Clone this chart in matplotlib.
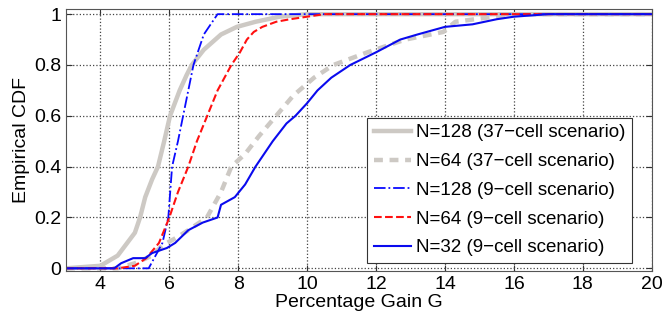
import matplotlib
matplotlib.use('Agg')
import matplotlib.pyplot as plt

plt.rcParams['font.family'] = ['Liberation Sans', 'DejaVu Sans']

# N=128 (37-cell)
g128_x = [3, 4.0, 4.5, 5.0, 5.15, 5.3, 5.5, 5.67, 5.85, 6.02, 6.3, 6.5, 6.65, 7.0, 7.5, 7.96, 8.5, 9.2, 10.0, 20]
g128_y = [0, 0.01, 0.05, 0.14, 0.2, 0.28, 0.35, 0.4, 0.5, 0.6, 0.7, 0.76, 0.8, 0.86, 0.92, 0.95, 0.97, 0.99, 1.0, 1.0]
# N=64 (37-cell)
g64_x = [3, 4.5, 5.0, 5.5, 5.8, 6.2, 6.55, 7.09, 7.5, 7.8, 8.2, 8.6, 9.1, 9.6, 10.2, 10.76, 11.75, 12.85, 13.95, 14.3, 16.0, 20]
g64_y = [0, 0.0, 0.02, 0.05, 0.09, 0.12, 0.15, 0.2, 0.3, 0.4, 0.45, 0.52, 0.6, 0.68, 0.75, 0.8, 0.85, 0.9, 0.93, 0.97, 1.0, 1.0]
# N=128 (9-cell)
b128_x = [3, 5.0, 5.4, 5.6, 5.8, 5.97, 6.08, 6.25, 6.4, 6.55, 6.7, 7.0, 7.4, 20]
b128_y = [0, 0.0, 0.0, 0.05, 0.1, 0.2, 0.4, 0.5, 0.6, 0.7, 0.8, 0.92, 1.0, 1.0]
# N=64 (9-cell)
r64_x = [3, 4.5, 5.0, 5.33, 5.7, 6.0, 6.25, 6.55, 6.8, 7.1, 7.4, 7.8, 8.05, 8.25, 8.45, 8.7, 9.1, 9.5, 10.0, 10.5, 20]
r64_y = [0, 0.0, 0.01, 0.04, 0.1, 0.2, 0.3, 0.4, 0.5, 0.6, 0.7, 0.8, 0.85, 0.9, 0.93, 0.95, 0.97, 0.98, 0.99, 1.0, 1.0]
# N=32 (9-cell)
b32_x = [3, 4.4, 4.6, 4.95, 5.3, 5.5, 5.93, 6.17, 6.55, 6.97, 7.4, 7.5, 7.9, 8.2, 8.5, 9.0, 9.4, 9.66, 10.0, 10.3, 10.7, 11.25, 12.0, 12.7, 13.2, 14.0, 14.8, 15.5, 16.0, 17.0, 20]
b32_y = [0, 0.0, 0.02, 0.04, 0.04, 0.06, 0.08, 0.1, 0.15, 0.18, 0.2, 0.25, 0.28, 0.33, 0.4, 0.5, 0.57, 0.6, 0.65, 0.7, 0.75, 0.8, 0.85, 0.9, 0.92, 0.95, 0.96, 0.98, 0.99, 1.0, 1.0]

gray = '#cdc9c4'

fig = plt.figure(figsize=(6.63, 3.24), dpi=100)
ax = fig.add_axes([0.0995, 0.164, 0.8835, 0.808])

ax.plot(g128_x, g128_y, color=gray, lw=3.2, label='N=128 (37\u2212cell scenario)')
ax.plot(g64_x, g64_y, color=gray, lw=3.2, ls=(0, (2, 1.5)), label='N=64 (37\u2212cell scenario)')
ax.plot(b128_x, b128_y, color='#0a0aff', lw=1.3, ls='-.', label='N=128 (9\u2212cell scenario)')
ax.plot(r64_x, r64_y, color='#ff1010', lw=1.5, ls='--', label='N=64 (9\u2212cell scenario)')
ax.plot(b32_x, b32_y, color='#0a0aee', lw=1.5, label='N=32 (9\u2212cell scenario)')

ax.set_xlim(3, 20)
ax.set_ylim(-0.01, 1.02)
ax.set_xticks(range(4, 21, 2))
ax.set_yticks([0, 0.2, 0.4, 0.6, 0.8, 1])
ax.set_yticklabels(['0', '0.2', '0.4', '0.6', '0.8', '1'])
ax.grid(True, ls=':', color='#444444', lw=0.9)
ax.tick_params(direction='in', top=True, right=True, labelsize=14, length=4, color='#333333')
for s in ax.spines.values():
    s.set_color('#555555')
    s.set_linewidth(0.8)

ax.set_xlabel('Percentage Gain G', fontsize=14, labelpad=1)
ax.set_ylabel('Empirical CDF', fontsize=14, labelpad=3)

leg = ax.legend(loc='lower right', bbox_to_anchor=(0.966, 0.03), borderaxespad=0,
                fontsize=13.5, handlelength=2.0, handletextpad=0.25, labelspacing=0.62,
                borderpad=0.35, fancybox=False, framealpha=1)
leg.get_frame().set_edgecolor('#333333')
leg.get_frame().set_linewidth(0.8)

plt.savefig('out.png', dpi=100)
